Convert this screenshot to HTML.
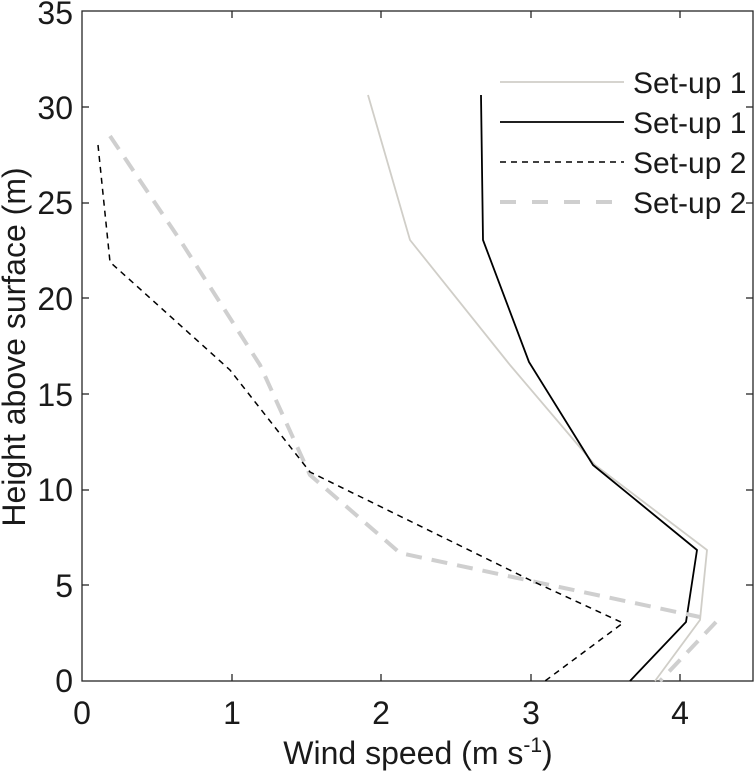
<!DOCTYPE html>
<html><head><style>body{margin:0;background:#fff}svg{display:block}text{font-family:"Liberation Sans",Arial,sans-serif;fill:#1a1a1a}</style></head><body>
<svg width="755" height="772" viewBox="0 0 755 772">
<rect x="82" y="11" width="671" height="670" fill="none" stroke="#262626" stroke-width="1.3"/>
<g stroke="#262626" stroke-width="1.3">
<line x1="232" y1="681" x2="232" y2="674"/><line x1="381" y1="681" x2="381" y2="674"/><line x1="531" y1="681" x2="531" y2="674"/><line x1="680" y1="681" x2="680" y2="674"/>
<line x1="232" y1="11" x2="232" y2="18"/><line x1="381" y1="11" x2="381" y2="18"/><line x1="531" y1="11" x2="531" y2="18"/><line x1="680" y1="11" x2="680" y2="18"/>
<line x1="82" y1="585" x2="89" y2="585"/><line x1="82" y1="490" x2="89" y2="490"/><line x1="82" y1="394" x2="89" y2="394"/><line x1="82" y1="298" x2="89" y2="298"/><line x1="82" y1="203" x2="89" y2="203"/><line x1="82" y1="107" x2="89" y2="107"/>
<line x1="753" y1="585" x2="746" y2="585"/><line x1="753" y1="490" x2="746" y2="490"/><line x1="753" y1="394" x2="746" y2="394"/><line x1="753" y1="298" x2="746" y2="298"/><line x1="753" y1="203" x2="746" y2="203"/><line x1="753" y1="107" x2="746" y2="107"/>
</g>
<g font-size="32" text-anchor="middle">
<text x="82" y="724">0</text><text x="232" y="724">1</text><text x="381" y="724">2</text><text x="531" y="724">3</text><text x="680" y="724">4</text>
</g>
<g font-size="32" text-anchor="end">
<text x="73" y="692">0</text><text x="73" y="597">5</text><text x="73" y="501">10</text><text x="73" y="406">15</text><text x="73" y="310">20</text><text x="73" y="214">25</text><text x="73" y="119">30</text><text x="73" y="24">35</text>
</g>
<text x="418" y="764" font-size="32" text-anchor="middle">Wind speed (m s<tspan dy="-12" font-size="21">-1</tspan><tspan dy="12">)</tspan></text>
<text transform="translate(25,347) rotate(-90)" font-size="32" text-anchor="middle">Height above surface (m)</text>
<g fill="none" stroke-linejoin="round">
<polyline points="368,95 410,240 510,365 595,465 707,550 700,620 655,681" stroke="#d0cec8" stroke-width="1.8"/>
<polyline points="481,95 483,240 529,362 593,465 697,550 686,622 630,681" stroke="#000" stroke-width="1.8"/>
<polyline points="110,136 180,240 260,365 310,475 400,553 700,617" stroke="#cfcfcf" stroke-width="4" stroke-dasharray="16,10"/>
<polyline points="716,622 660,681" stroke="#cfcfcf" stroke-width="4" stroke-dasharray="16,10"/>
<polyline points="98,145 110,262 230,370 310,472 530,580 623,623 545,681" stroke="#000" stroke-width="1.5" stroke-dasharray="6,5"/>
</g>
<g fill="none">
<line x1="500" y1="82" x2="624" y2="82" stroke="#d0cec8" stroke-width="1.8"/>
<line x1="500" y1="122" x2="624" y2="122" stroke="#000" stroke-width="1.8"/>
<line x1="500" y1="162" x2="624" y2="162" stroke="#000" stroke-width="1.5" stroke-dasharray="6,5"/>
<line x1="500" y1="202" x2="624" y2="202" stroke="#cfcfcf" stroke-width="4" stroke-dasharray="16,16"/>
</g>
<g font-size="30" fill="#000">
<text x="633" y="93">Set-up 1</text><text x="633" y="133">Set-up 1</text><text x="633" y="173">Set-up 2</text><text x="633" y="213">Set-up 2</text>
</g>
</svg>
</body></html>
